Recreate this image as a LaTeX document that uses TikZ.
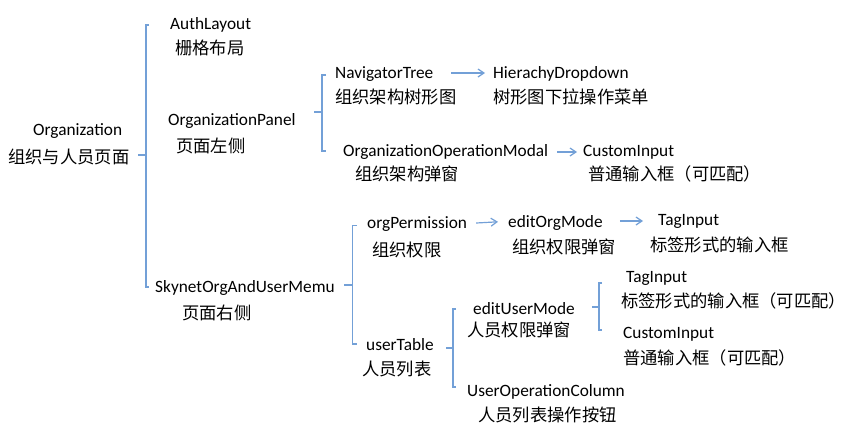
\documentclass[tikz,border=0pt]{standalone}
\usepackage{fontspec}
\setmainfont{Carlito}
\newfontfamily\cjk{Noto Sans CJK SC}
\usetikzlibrary{arrows.meta}
\definecolor{lineblue}{RGB}{115,160,215}
\tikzset{
  en/.style={anchor=base west,inner sep=0pt,font=\fontsize{17.3}{20}\selectfont},
  cn/.style={anchor=base west,inner sep=0pt,font=\cjk\fontsize{17.3}{20}\selectfont},
  brk/.style={draw=lineblue,line width=1.3pt},
  arr/.style={draw=lineblue,line width=1.2pt,-{Straight Barb[length=6pt,width=8pt,line width=1.2pt]}},
}
\begin{document}
\begin{tikzpicture}[x=1pt,y=-1pt]
\useasboundingbox (0,0) rectangle (853,445);
% Latin labels
\node[en] (org) at (33,135.5) {Organization};
\node[en] (auth) at (170,29.5) {AuthLayout};
\node[en] (panel) at (168,125.5) {OrganizationPanel};
\node[en] (sky) at (155,292) {SkynetOrgAndUserMemu};
\node[en] (nav) at (335,78) {NavigatorTree};
\node[en] (hier) at (493,78) {HierachyDropdown};
\node[en] (oom) at (343,156.5) {OrganizationOperationModal};
\node[en] (ci1) at (583,156.5) {CustomInput};
\node[en] (perm) at (367,228.5) {orgPermission};
\node[en] (eom) at (508,227.3) {editOrgMode};
\node[en] (tag1) at (658,225.7) {TagInput};
\node[en] (ut) at (366,350) {userTable};
\node[en] (eum) at (473,314) {editUserMode};
\node[en] (uoc) at (467,396) {UserOperationColumn};
\node[en] (tag2) at (626,282.3) {TagInput};
\node[en] (ci2) at (623,338.3) {CustomInput};
% Chinese labels
\node[cn] (orgcn) at (8,163) {组织与人员页面};
\node[cn] (authcn) at (175,54) {栅格布局};
\node[cn] (panelcn) at (176,152) {页面左侧};
\node[cn] (skycn) at (182,319) {页面右侧};
\node[cn] (navcn) at (335,103) {组织架构树形图};
\node[cn] (hiercn) at (493,103) {树形图下拉操作菜单};
\node[cn] (oomcn) at (355,180) {组织架构弹窗};
\node[cn] (ci1cn) at (588,180) {普通输入框（可匹配）};
\node[cn] (permcn) at (372,256) {组织权限};
\node[cn] (eomcn) at (512,253) {组织权限弹窗};
\node[cn] (tag1cn) at (650,251) {标签形式的输入框};
\node[cn] (utcn) at (362,375) {人员列表};
\node[cn] (eumcn) at (467,336) {人员权限弹窗};
\node[cn] (uoccn) at (478,421) {人员列表操作按钮};
\node[cn] (tag2cn) at (621,307.5) {标签形式的输入框（可匹配）};
\node[cn] (ci2cn) at (623,364) {普通输入框（可匹配）};
% brackets
\draw[brk] (138,155) -- (146,155);
\draw[brk] (149,25) -- (146,25) -- (146,287) -- (149,287);
\draw[brk] (314,112) -- (322,112);
\draw[brk] (326,75) -- (322,75) -- (322,151) -- (326,151);
\draw[brk] (344,285) -- (352.5,285);
\draw[brk] (357,225.5) -- (352.5,225.5) -- (352.5,344) -- (357,344);
\draw[brk] (446,348) -- (453,348);
\draw[brk] (456,309) -- (453,309) -- (453,387) -- (456,387);
\draw[brk] (592,307) -- (599,307);
\draw[brk] (602,283) -- (599,283) -- (599,330) -- (602,330);
% arrows
\draw[arr] ([xshift=18pt,yshift=5pt]nav.base east) -- ([xshift=-8pt,yshift=5pt]hier.base west);
\draw[arr] ([xshift=9pt,yshift=4.5pt]oom.base east) -- ([xshift=-6pt,yshift=4.5pt]ci1.base west);
\draw[arr] ([xshift=9pt,yshift=5.5pt]perm.base east) -- ([xshift=-10pt,yshift=5.5pt]eom.base west);
\draw[arr] ([xshift=17pt,yshift=6.3pt]eom.base east) -- ([xshift=-15pt,yshift=4.7pt]tag1.base west);
\end{tikzpicture}
\end{document}
